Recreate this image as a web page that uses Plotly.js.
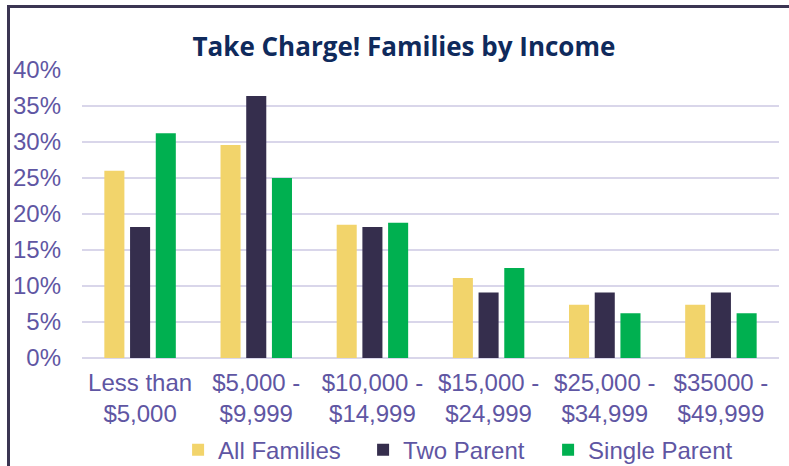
<!DOCTYPE html>
<html>
<head>
<meta charset="utf-8">
<script src="https://cdn.plot.ly/plotly-3.0.1.min.js"></script>
<style>
html,body{margin:0;padding:0;background:#fff;}
#wrap{position:relative;width:789px;height:466px;overflow:hidden;}
#chart{width:789px;height:466px;}
#frame{position:absolute;left:7px;top:5px;width:800px;height:458px;border-left:3px solid #3b3552;border-top:3px solid #3b3552;border-bottom:1px solid #c8c8c8;pointer-events:none;}
</style>
</head>
<body>
<div id="wrap"><div id="chart"></div><div id="frame"></div></div>
<script>
const categories = ["Less than<br>$5,000", "$5,000 -<br>$9,999", "$10,000 -<br>$14,999", "$15,000 -<br>$24,999", "$25,000 -<br>$34,999", "$35000 -<br>$49,999"];
const allFamilies = [26.0, 29.6, 18.5, 11.1, 7.4, 7.4];
const twoParent = [18.2, 36.4, 18.2, 9.1, 9.1, 9.1];
const singleParent = [31.2, 25.0, 18.8, 12.5, 6.2, 6.2];
const seriesNames = ["All Families", "Two Parent", "Single Parent"];
const tickVals = [0, 5, 10, 15, 20, 25, 30, 35, 40];
const tickText = ["0%", "5%", "10%", "15%", "20%", "25%", "30%", "35%", "40%"];

const txt = "#5f56a3";
const traces = [
  {type:"bar", name:seriesNames[0], x:categories, y:allFamilies, marker:{color:"#f2d46b"}},
  {type:"bar", name:seriesNames[1], x:categories, y:twoParent, marker:{color:"#352e4d"}},
  {type:"bar", name:seriesNames[2], x:categories, y:singleParent, marker:{color:"#00b050"}}
];
const layout = {
  width:789, height:466,
  margin:{l:82, r:10, t:70, b:108, autoexpand:false},
  paper_bgcolor:"#ffffff", plot_bgcolor:"#ffffff",
  font:{family:"Liberation Sans, Arial, sans-serif", size:24, color:txt},
  title:{text:"<b>Take Charge! Families by Income</b>", font:{family:"Open Sans, sans-serif", size:26, color:"#0f2a5c"}, x:0.512, xanchor:"center", y:0.9, yanchor:"middle", automargin:false},
  barmode:"group", bargap:0.336, bargroupgap:0.22,
  showlegend:true,
  legend:{orientation:"h", x:0.536, xanchor:"center", y:-0.32, yanchor:"middle", font:{size:24, color:txt}, itemwidth:30, tracegroupgap:0, entrywidth:140},
  xaxis:{type:"category", automargin:false, showgrid:false, zeroline:false, showline:false, ticks:"", tickfont:{size:24, color:txt}, ticklabelstandoff:8},
  yaxis:{range:[0,40], automargin:false, tickvals:tickVals, ticktext:tickText, showgrid:true, gridcolor:"#d9d6ea", gridwidth:2, zeroline:true, zerolinecolor:"#d9d6ea", zerolinewidth:2, showline:false, ticks:"", tickfont:{size:24, color:txt}, ticklabelstandoff:20}
};
Plotly.newPlot("chart", traces, layout, {displayModeBar:false, staticPlot:true});
</script>
</body>
</html>
